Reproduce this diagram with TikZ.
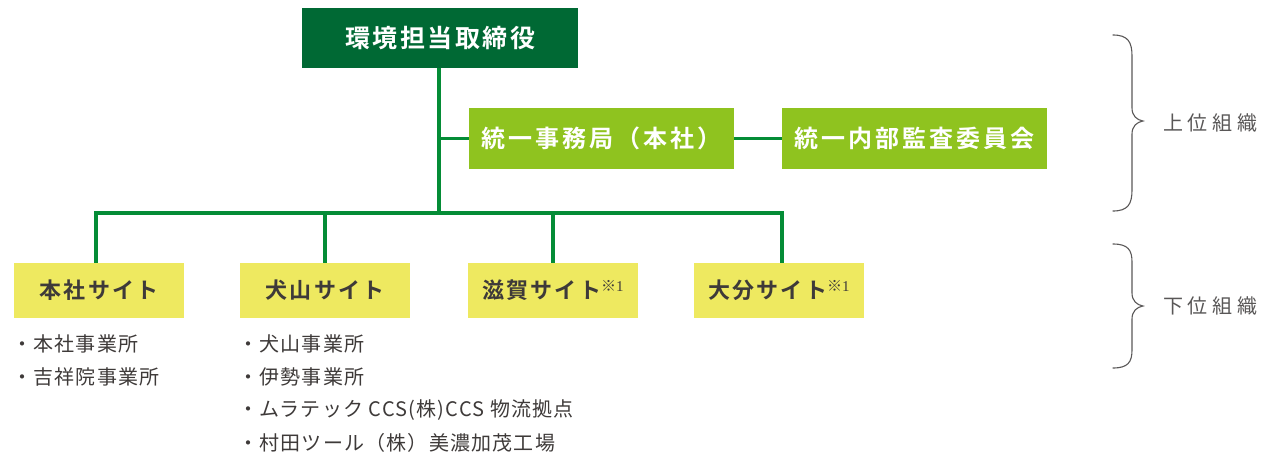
\documentclass[tikz,border=0pt]{standalone}
\usepackage{fontspec}
\setmainfont{Noto Sans CJK JP}[BoldFont={Noto Sans CJK JP Bold}]
\newfontfamily\jpwide{Noto Sans CJK JP}[LetterSpace=10,BoldFont={Noto Sans CJK JP Bold}]
\newfontfamily\jpwider{Noto Sans CJK JP}[LetterSpace=12,BoldFont={Noto Sans CJK JP Bold}]
\newfontfamily\jplist{Noto Sans CJK JP}[LetterSpace=6]
\newfontfamily\jplabel{Noto Sans CJK JP}[LetterSpace=24]
\newfontfamily\serifnum{Liberation Serif}
\definecolor{topgreen}{HTML}{006934}
\definecolor{midgreen}{HTML}{8FC31F}
\definecolor{linegreen}{HTML}{048C36}
\definecolor{siteyellow}{HTML}{EEE960}
\definecolor{darktext}{HTML}{3E3A39}
\definecolor{graytext}{HTML}{595757}
\tikzset{
  topbox/.style={fill=topgreen, text=white, minimum width=276pt, minimum height=60pt, inner sep=0pt,
    font=\jpwide\fontsize{25}{25}\selectfont\bfseries},
  midbox/.style={fill=midgreen, text=white, minimum width=265pt, minimum height=61pt, inner sep=0pt,
    font=\jpwider\fontsize{24}{24}\selectfont\bfseries},
  sitebox/.style={fill=siteyellow, text=darktext, minimum width=170pt, minimum height=55pt, inner sep=0pt,
    font=\jpwide\fontsize{22}{22}\selectfont\bfseries},
  listitem/.style={anchor=west, inner sep=0pt, text=darktext, font=\jplist\fontsize{20}{20}\selectfont},
  orglabel/.style={anchor=west, inner sep=0pt, text=graytext, font=\jplabel\fontsize{20}{20}\selectfont},
  conn/.style={draw=linegreen, line width=3.2pt},
  bracestyle/.style={draw=graytext, line width=1.1pt, line cap=round}
}
\newcommand{\notemark}{\raisebox{7pt}{\fontsize{15}{15}\selectfont\mdseries ※\serifnum 1}}
\begin{document}
\begin{tikzpicture}[x=1pt,y=-1pt]
\useasboundingbox (0,0) rectangle (1264,453);

% boxes
\node[topbox] (top) at (440,38) {環境担当取締役};
\node[midbox] (jimu) at (601.5,138.5) {統一事務局（本社）};
\node[midbox] (kansa) at (914.5,138.5) {統一内部監査委員会};

\node[sitebox] (honsha) at (99,290.5) {本社サイト};
\node[sitebox] (inuyama) at (325,290.5) {犬山サイト};
\node[sitebox] (shiga) at (553,290.5) {滋賀サイト\notemark};
\node[sitebox] (oita) at (779,290.5) {大分サイト\notemark};

% connector coordinates
\coordinate (trunk) at (439,213);
\coordinate (b1) at (96,213);
\coordinate (b2) at (325,213);
\coordinate (b3) at (553,213);
\coordinate (b4) at (782,213);

\draw[conn] (top.south -| trunk) -- (trunk);
\draw[conn] (jimu.west) -- (jimu.west -| trunk);
\draw[conn] (jimu.east) -- (kansa.west);
\draw[conn] ([xshift=-1.6pt]b1) -- ([xshift=1.6pt]b4);
\draw[conn] ([yshift=-1.6pt]b1) -- (b1 |- honsha.north);
\draw[conn] (b2) -- (b2 |- inuyama.north);
\draw[conn] (b3) -- (b3 |- shiga.north);
\draw[conn] ([yshift=-1.6pt]b4) -- (b4 |- oita.north);

% lists
\node[listitem] (l1a) at (12,344) {・本社事業所};
\node[listitem] (l1b) at (12,377) {・吉祥院事業所};
\node[listitem] (l2a) at (238,344) {・犬山事業所};
\node[listitem] (l2b) at (238,377) {・伊勢事業所};
\node[listitem] (l2c) at (238,410) {・ムラテック CCS(株)CCS 物流拠点};
\node[listitem] (l2d) at (238,443) {・村田ツール（株）美濃加茂工場};

% braces
\draw[bracestyle] (1113,35) .. controls (1128,35) and (1132,42) .. (1132,56) -- (1132,108)
  .. controls (1132,116) and (1137,120) .. (1143,121)
  .. controls (1137,122) and (1132,126) .. (1132,134) -- (1132,190)
  .. controls (1132,204) and (1128,211) .. (1113,211);
\draw[bracestyle] (1113,244) .. controls (1128,244) and (1132,250) .. (1132,262) -- (1132,293)
  .. controls (1132,301) and (1137,305) .. (1143,306)
  .. controls (1137,307) and (1132,311) .. (1132,319) -- (1132,350)
  .. controls (1132,362) and (1128,368) .. (1113,368);

\node[orglabel] (upper) at (1163,123) {上位組織};
\node[orglabel] (lower) at (1163,306) {下位組織};
\end{tikzpicture}
\end{document}
